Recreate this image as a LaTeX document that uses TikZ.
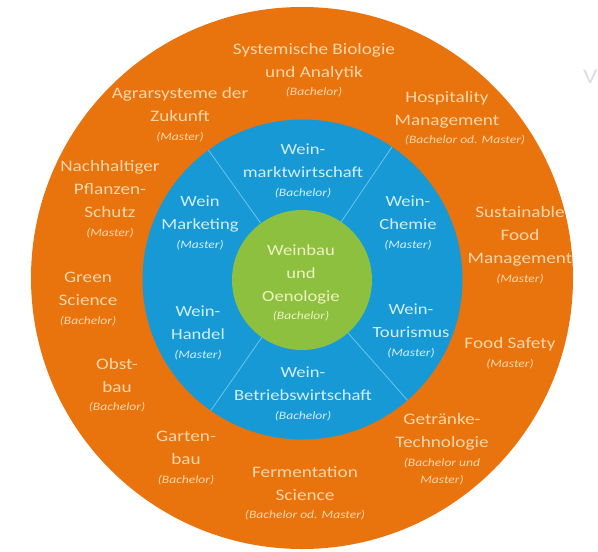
\documentclass[tikz,border=0pt]{standalone}
\usepackage{fontspec}
\setmainfont{Carlito}[FakeStretch=1.2]

% ring colours and their text colours
\definecolor{ringorange}{HTML}{E9730D}
\definecolor{ringblue}{HTML}{1799D6}
\definecolor{ringgreen}{HTML}{8DC03F}
\definecolor{txtorange}{HTML}{FAD7AA}
\definecolor{txtblue}{HTML}{D2EEFA}
\definecolor{txtgreen}{HTML}{EEF2C0}
\definecolor{divline}{HTML}{6CC4EA}
\definecolor{fadegray}{HTML}{DEDEDE}

% small italic line with the kind of degree
\newcommand\progfont{\fontsize{11.3}{13}\selectfont\itshape}
\newcommand\prog[1]{\\[-4.5pt]{\progfont #1}}

\begin{document}
\begin{tikzpicture}[x=1pt,y=-1pt,
  ring/.style={circle, inner sep=0pt, outer sep=0pt, draw=none},
  divider/.style={draw=divline, line width=0.8pt},
  label/.style={align=center, inner sep=0pt, font=\fontsize{16}{23}\selectfont},
  outerlbl/.style={label, text=txtorange},
  midlbl/.style={label, text=txtblue, font=\fontsize{15.5}{23}\selectfont},
  corelbl/.style={label, text=txtgreen, font=\fontsize{15.5}{23}\selectfont}]
\useasboundingbox (0,0) rectangle (598,552);

% the three rings
\node[ring, fill=ringorange, minimum size=542pt] (outer) at (302,278) {};
\node[ring, fill=ringblue, minimum size=320pt] (mid) at (302.5,279.5) {};
\node[ring, fill=ringgreen, minimum size=140pt] (core) at (302,280) {};

% separators between the wine subjects
\foreach \a in {126,56,-49,-125}
  \draw[divider] (core.\a) -- (mid.\a);

% centre
\node[corelbl] (weinbau) at (301,283) {Weinbau\\und\\Oenologie\prog{(Bachelor)}};

% wine subjects
\node[midlbl] (markt) at (303,171) {Wein-\\marktwirtschaft\prog{(Bachelor)}};
\node[midlbl] (marketing) at (200,223) {Wein\\Marketing\prog{(Master)}};
\node[midlbl] (chemie) at (408,223) {Wein-\\Chemie\prog{(Master)}};
\node[midlbl] (handel) at (198,333) {Wein-\\Handel\prog{(Master)}};
\node[midlbl] (tourismus) at (411,331) {Wein-\\Tourismus\prog{(Master)}};
\node[midlbl] (betrieb) at (303,394) {Wein-\\Betriebswirtschaft\prog{(Bachelor)}};

% further programmes
\node[outerlbl] (sysbio) at (314,70) {Systemische Biologie\\und Analytik\prog{(Bachelor)}};
\node[outerlbl] (agrar) at (180,114.5) {Agrarsysteme der\\Zukunft\prog{(Master)}};
\node[outerlbl] (pflanzen) at (110,199) {Nachhaltiger\\Pflanzen-\\Schutz\prog{(Master)}};
\node[outerlbl] (hosp) at (447,118) {Hospitality\\Management\prog{\hspace*{36pt}(Bachelor od. Master)}};
\node[outerlbl] (sustain) at (520,245) {Sustainable\\Food\\Management\prog{(Master)}};
\node[outerlbl] (green) at (88,299) {Green\\Science\prog{(Bachelor)}};
\node[outerlbl] (obst) at (117,385) {Obst-\\bau\prog{(Bachelor)}};
\node[outerlbl] (safety) at (510,353) {Food Safety\prog{(Master)}};
\node[outerlbl] (getraenke) at (442,449) {Getränke-\\Technologie\prog{(Bachelor und}\\[-6pt]{\progfont Master)}};
\node[outerlbl] (garten) at (186,458) {Garten-\\bau\prog{(Bachelor)}};
\node[outerlbl] (ferment) at (305,493) {Fermentation\\Science\prog{(Bachelor od. Master)}};

% faint letter at the right edge
\node[anchor=base west, inner sep=0pt, text=fadegray, font=\fontsize{21}{21}\selectfont] (edgev) at (583,83) {V};
\end{tikzpicture}
\end{document}
